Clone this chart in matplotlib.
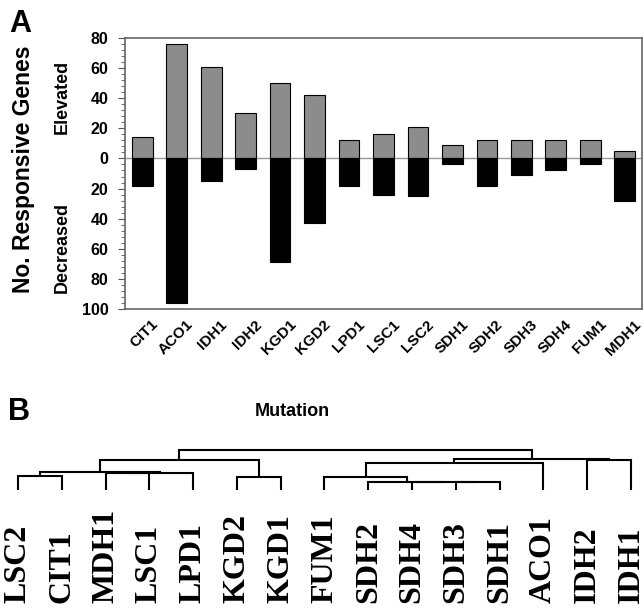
import numpy as np
import matplotlib.pyplot as plt
from matplotlib.ticker import FixedLocator, MultipleLocator, FuncFormatter
import matplotlib.transforms as mtransforms

# Panel A data
mutants = ["CIT1", "ACO1", "IDH1", "IDH2", "KGD1", "KGD2", "LPD1", "LSC1",
           "LSC2", "SDH1", "SDH2", "SDH3", "SDH4", "FUM1", "MDH1"]
elevated = [14, 76, 61, 30, 50, 42, 12, 16, 21, 9, 12, 12, 12, 12, 5]
decreased = [18, 96, 15, 7, 69, 43, 18, 24, 25, 4, 18, 11, 8, 4, 28]

# Panel B data: leaf order and merges (child, child, height)
leaves = ["LSC2", "CIT1", "MDH1", "LSC1", "LPD1", "KGD2", "KGD1", "FUM1",
          "SDH2", "SDH4", "SDH3", "SDH1", "ACO1", "IDH2", "IDH1"]
merges = [
    ("SDH3", "SDH1", 8.0),
    ("SDH4", 0, 8.2),
    ("SDH2", 1, 8.4),
    ("FUM1", 2, 12.7),
    ("LSC2", "CIT1", 14.0),
    ("KGD2", "KGD1", 12.7),
    ("MDH1", "LSC1", 17.3),
    (6, "LPD1", 16.7),
    (4, 7, 18.3),
    (8, 5, 30.0),
    (3, "ACO1", 27.3),
    ("IDH2", "IDH1", 30.5),
    (10, 11, 30.7),
    (9, 12, 40.0),
]

plt.rcParams['font.family'] = ['Liberation Sans', 'DejaVu Sans']
fig = plt.figure(figsize=(6.44, 6.09), dpi=100)

# ---------------- Panel A ----------------
ax = fig.add_axes([125 / 644, 1 - 309 / 609, 517 / 644, 271 / 609])
x = np.arange(len(mutants))
ax.bar(x, elevated, width=0.6, color="#8c8c8c", edgecolor="black", linewidth=0.8, zorder=3)
ax.bar(x, [-d for d in decreased], width=0.6, color="black", edgecolor="black", linewidth=0.8, zorder=3)
ax.axhline(0, color="#999999", linewidth=1.0, zorder=2)
ax.set_xlim(-0.5, len(mutants) - 0.5)
ax.set_ylim(-100, 80)
ax.yaxis.set_major_locator(FixedLocator(np.arange(-100, 81, 20)))
ax.yaxis.set_minor_locator(MultipleLocator(4))
ax.yaxis.set_major_formatter(FuncFormatter(lambda v, p: f"{abs(int(round(v)))}"))
ax.tick_params(axis="y", which="major", length=5, width=0.8, color="#555555", pad=7, labelsize=11.5)
ax.tick_params(axis="y", which="minor", length=3, width=0.6, color="#555555")
for lab in ax.get_yticklabels():
    lab.set_fontweight("bold")
for s in ax.spines.values():
    s.set_color("#666666")
    s.set_linewidth(1.2)

ax.set_xticks(x)
ax.set_xticklabels(mutants, rotation=45, ha="right", va="top", rotation_mode="anchor",
                   fontsize=11, fontweight="bold")
ax.tick_params(axis="x", length=0, pad=6)
offset = mtransforms.ScaledTranslation(9 / 100, 0, fig.dpi_scale_trans)
for lab in ax.get_xticklabels():
    lab.set_transform(lab.get_transform() + offset)

fig.text(24 / 644, 1 - 169 / 609, "No. Responsive Genes", rotation=90, ha="center", va="center",
         fontsize=16.5, fontweight="bold")
fig.text(62 / 644, 1 - 97 / 609, "Elevated", rotation=90, ha="center", va="center",
         fontsize=13, fontweight="bold")
fig.text(62 / 644, 1 - 247 / 609, "Decreased", rotation=90, ha="center", va="center",
         fontsize=13, fontweight="bold")
fig.text(9 / 644, 1 - 32 / 609, "A", fontsize=22, fontweight="bold", ha="left", va="baseline")

# ---------------- Panel B ----------------
fig.text(8 / 644, 1 - 420 / 609, "B", fontsize=22, fontweight="bold", ha="left", va="baseline")
fig.text(292 / 644, 1 - 411 / 609, "Mutation", fontsize=13, fontweight="bold", ha="center", va="center")

# one data unit = one pixel vertically, leaf bottoms at y=490
axd = fig.add_axes([0, 1 - 605 / 609, 1, (605 - 440) / 609])
axd.set_xlim(-0.411, 14.297)
axd.set_ylim(-115, 50)
axd.axis("off")

pos = {name: (i, 0.0) for i, name in enumerate(leaves)}
for k, (a, b, h) in enumerate(merges):
    xa, ya = pos[a]
    xb, yb = pos[b]
    axd.plot([xa, xa, xb, xb], [ya, h, h, yb], color="black", linewidth=1.5,
             solid_joinstyle="miter", solid_capstyle="butt")
    pos[k] = ((xa + xb) / 2, h)

for i, name in enumerate(leaves):
    axd.text(i, -113, name, rotation=90, ha="center", va="bottom",
             fontsize=23, fontweight="bold", family=["Liberation Serif", "DejaVu Serif"])

fig.savefig("out.png", dpi=100)
